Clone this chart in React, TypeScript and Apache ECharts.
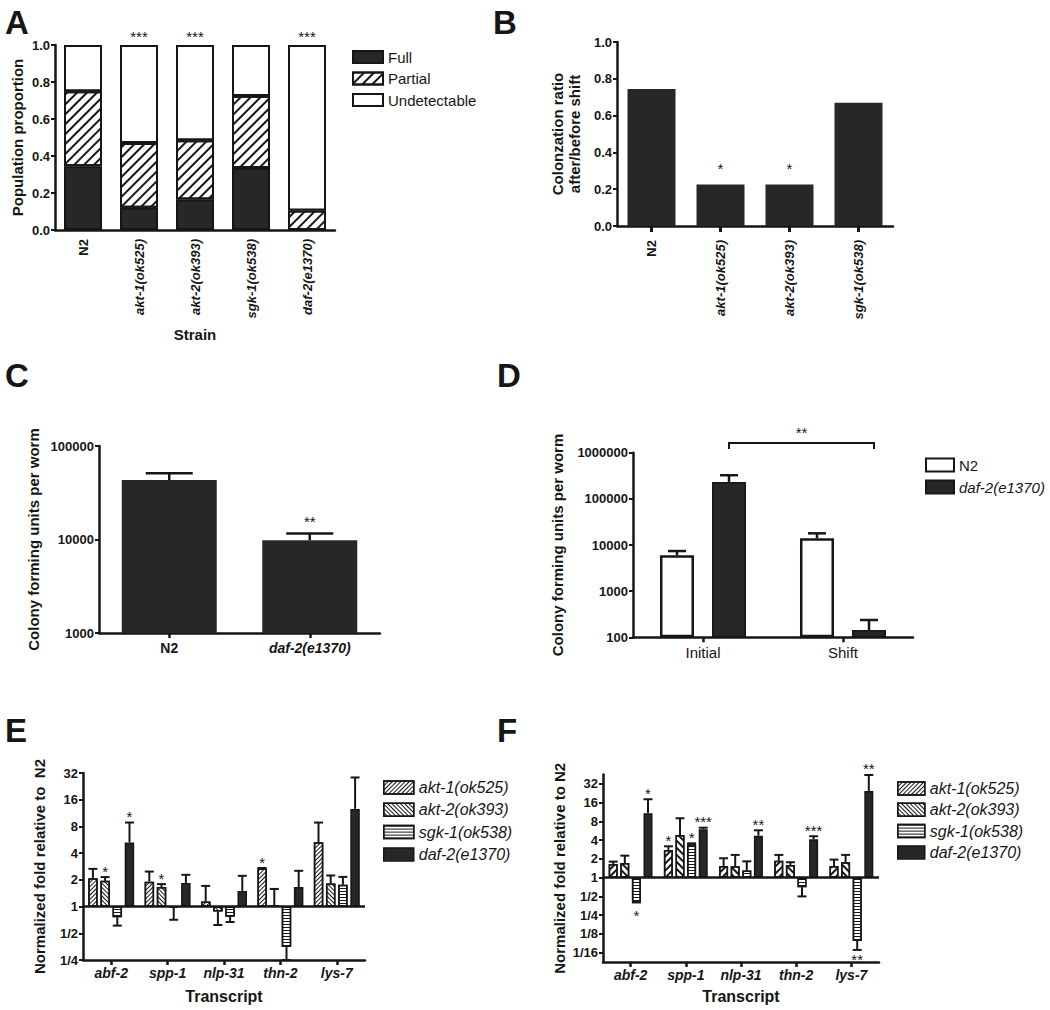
import React, { useEffect, useRef } from 'react';
import * as echarts from 'echarts';

const FONT = '"Liberation Sans", Arial, Helvetica, sans-serif';
const INK = '#161616';
const DARK = '#272727';

// ---------- Panel A ----------
const strainsA = ['N2', 'akt-1(ok525)', 'akt-2(ok393)', 'sgk-1(ok538)', 'daf-2(e1370)'];
const fullA = [0.345, 0.12, 0.165, 0.335, 0];
const partialA = [0.405, 0.35, 0.32, 0.39, 0.105];
const undetA = [0.25, 0.53, 0.515, 0.275, 0.895];
const sigA = ['', '***', '***', '', '***'];

// ---------- Panel B ----------
const strainsB = ['N2', 'akt-1(ok525)', 'akt-2(ok393)', 'sgk-1(ok538)'];
const ratioB = [0.745, 0.225, 0.225, 0.67];
const sigB = ['', '*', '*', ''];

// ---------- Panel C ----------
const strainsC = ['N2', 'daf-2(e1370)'];
const cfuC = [43300, 9800];
const cfuErrC = [51000, 11600];
const sigC = ['', '**'];

// ---------- Panel D ----------
const phasesD = ['Initial', 'Shift'];
const seriesD = ['N2', 'daf-2(e1370)'];
const n2D = [6000, 14000];
const n2ErrD = [7400, 17900];
const daf2D = [233000, 144];
const daf2ErrD = [325000, 237];
const bracketD = { from: 0, to: 1, top: 1620000, foot: 1200000, sig: '**' };

// ---------- Panels E & F ----------
const transcripts = ['abf-2', 'spp-1', 'nlp-31', 'thn-2', 'lys-7'];
const strainsEF = ['akt-1(ok525)', 'akt-2(ok393)', 'sgk-1(ok538)', 'daf-2(e1370)'];

const akt1E = [2.09, 1.91, 1.14, 2.68, 5.32];
const akt1ErrE = [2.66, 2.48, 1.71, 2.72, 8.85];
const akt2E = [1.95, 1.66, 0.88, 1.04, 1.82];
const akt2ErrE = [2.15, 1.79, 0.62, 1.58, 2.24];
const sgk1E = [0.76, 0.97, 0.77, 0.35, 1.76];
const sgk1ErrE = [0.61, 0.71, 0.67, 0.25, 2.16];
const daf2E = [5.27, 1.84, 1.5, 1.66, 12.6];
const daf2ErrE = [8.85, 2.28, 2.22, 2.53, 28.5];
const sigAkt1E = ['', '', '', '*', ''];
const sigAkt2E = ['*', '*', '', '', ''];
const sigSgk1E = ['', '', '', '', ''];
const sigDaf2E = ['*', '', '', '', ''];

const akt1F = [1.66, 2.79, 1.54, 1.87, 1.54];
const akt1ErrF = [1.81, 3.19, 2.05, 2.32, 1.95];
const akt2F = [1.72, 4.85, 1.52, 1.6, 1.77];
const akt2ErrF = [2.26, 9.0, 2.32, 1.77, 2.32];
const sgk1F = [0.41, 3.44, 1.3, 0.7, 0.096];
const sgk1ErrF = [0.4, 3.56, 1.83, 0.5, 0.069];
const daf2F = [10.8, 5.98, 4.73, 4.14, 24.7];
const daf2ErrF = [18.2, 6.35, 5.77, 4.63, 44.6];
const sigAkt1F = ['', '*', '', '', ''];
const sigAkt2F = ['', '', '', '', ''];
const sigSgk1F = ['*', '*', '', '', '**'];
const sigDaf2F = ['*', '***', '**', '***', '**'];

const ticksF = [-4, -3, -2, -1, 0, 1, 2, 3, 4, 5];

// ---------- helpers ----------
const C_BASE = 3; // log10(1000)
const D_BASE = 2; // log10(100)
const lc = (v: number) => Math.log10(v) - C_BASE;
const ld = (v: number) => Math.log10(v) - D_BASE;
const l2 = (v: number) => Math.log2(v);

const STAR = 15;
const axisLine = { show: true, onZero: false, lineStyle: { color: INK, width: 2.5 } };
const yTick = { show: true, length: 4, lineStyle: { color: INK, width: 2 } };
const xTick = { show: true, alignWithLabel: true, length: 5, lineStyle: { color: INK, width: 2.5 } };
const tickLabel = { color: INK, fontFamily: FONT, fontWeight: 'bold', fontSize: 13, margin: 5 };
const nameStyle = { color: INK, fontFamily: FONT, fontWeight: 'bold', fontSize: 15 };

const catRich = (size: number) => ({
  b: { fontFamily: FONT, fontWeight: 'bold', fontSize: size, color: INK },
  bi: { fontFamily: FONT, fontWeight: 'bold', fontStyle: 'italic', fontSize: size, color: INK },
});
const strainFmt = (v: string) => (v === 'N2' ? `{b|${v}}` : `{bi|${v}}`);
const foldFmt = (v: number) => {
  const r = Math.round(v);
  return r >= 0 ? String(Math.pow(2, r)) : '1/' + Math.pow(2, -r);
};

const hatch = (rotation: number, dash: number[]) => ({
  symbol: 'rect',
  symbolSize: 1,
  dashArrayX: [1, 0],
  dashArrayY: dash,
  rotation,
  color: INK,
});

// star text whose glyph centre sits at (x, cy)
const starText = (x: number, cy: number, text: string) => ({
  type: 'text',
  x,
  y: cy + 0.23 * STAR,
  style: {
    text,
    fill: INK,
    fontFamily: FONT,
    fontSize: STAR,
    lineHeight: 9,
    align: 'center',
    verticalAlign: 'middle',
  },
});

type Entry = { cat: number; val: number; end: number; sig: string; off: number };

function errorSeries(
  axis: number,
  entries: Entry[],
  capHalf: number,
  lw: number,
  upOff: number,
  downOff: number,
  yMin: number
) {
  return {
    type: 'custom',
    xAxisIndex: axis,
    yAxisIndex: axis,
    z: 5,
    clip: false,
    silent: true,
    data: entries.map((e) => [e.cat, e.end]),
    renderItem: (params: any, api: any) => {
      const e = entries[params.dataIndex];
      const p0 = api.coord([e.cat, e.val]);
      const p1 = api.coord([e.cat, e.end]);
      const bottom = api.coord([e.cat, yMin])[1];
      const x = p0[0] + e.off;
      const up = e.end >= e.val;
      const children: any[] = [];
      if (Math.abs(p1[1] - p0[1]) > 0.5) {
        children.push({
          type: 'line',
          shape: { x1: x, y1: p0[1], x2: x, y2: p1[1] },
          style: { stroke: INK, lineWidth: lw },
        });
        children.push({
          type: 'line',
          shape: { x1: x - capHalf, y1: p1[1], x2: x + capHalf, y2: p1[1] },
          style: { stroke: INK, lineWidth: lw },
        });
      }
      if (e.sig) {
        const cy = up
          ? Math.min(p0[1], p1[1]) - upOff
          : Math.min(Math.max(p0[1], p1[1]) + downOff, bottom - 6);
        children.push(starText(x, cy, e.sig));
      }
      return { type: 'group', children };
    },
  };
}

function buildOption() {
  const entriesC: Entry[] = strainsC.map((_, i) => ({
    cat: i,
    val: lc(cfuC[i]),
    end: lc(cfuErrC[i]),
    sig: sigC[i],
    off: 0,
  }));
  const dVals = [n2D, daf2D];
  const dErrs = [n2ErrD, daf2ErrD];
  const offD = [-26, 26];
  const entriesD: Entry[] = [];
  dVals.forEach((vals, s) =>
    vals.forEach((v, c) =>
      entriesD.push({ cat: c, val: ld(v), end: ld(dErrs[s][c]), sig: '', off: offD[s] })
    )
  );
  const buildEF = (vals: number[][], errs: number[][], sigs: string[][], step: number) => {
    const out: Entry[] = [];
    vals.forEach((arr, s) =>
      arr.forEach((v, c) =>
        out.push({ cat: c, val: l2(v), end: l2(errs[s][c]), sig: sigs[s][c], off: (s - 1.5) * step })
      )
    );
    return out;
  };
  const valsE = [akt1E, akt2E, sgk1E, daf2E];
  const errsE = [akt1ErrE, akt2ErrE, sgk1ErrE, daf2ErrE];
  const sigsE = [sigAkt1E, sigAkt2E, sigSgk1E, sigDaf2E];
  const valsF = [akt1F, akt2F, sgk1F, daf2F];
  const errsF = [akt1ErrF, akt2ErrF, sgk1ErrF, daf2ErrF];
  const sigsF = [sigAkt1F, sigAkt2F, sigSgk1F, sigDaf2F];
  const entriesE = buildEF(valsE, errsE, sigsE, 12.2);
  const entriesF = buildEF(valsF, errsF, sigsF, 11.6);

  const efStyles = (dense: boolean) => [
    { color: '#fff', borderColor: INK, borderWidth: 1.5, decal: hatch(-Math.PI / 4, dense ? [1, 1.8] : [1.1, 2.6]) },
    { color: '#fff', borderColor: INK, borderWidth: 1.5, decal: hatch(Math.PI / 4, dense ? [1, 1.8] : [1.1, 2.6]) },
    { color: '#fff', borderColor: INK, borderWidth: 1.5, decal: hatch(0, [1, 2]) },
    { color: DARK, borderColor: INK, borderWidth: 1.5 },
  ];
  const stylesE = efStyles(true);
  const stylesF = efStyles(false);

  const baseLine = {
    silent: true,
    symbol: ['none', 'none'],
    label: { show: false },
    lineStyle: { color: INK, width: 2.5, type: 'solid' },
    data: [{ yAxis: 0 }],
  };

  const efBars = (axis: number, vals: number[][], styles: any[], bw: number, gap: string) =>
    vals.map((arr, s) => ({
      type: 'bar',
      name: strainsEF[s],
      xAxisIndex: axis,
      yAxisIndex: axis,
      barWidth: bw,
      barGap: gap,
      itemStyle: styles[s],
      data: arr.map(l2),
      ...(s === 0 ? { markLine: baseLine } : {}),
    }));

  const legendText = (size: number, lh: number) => ({
    fontFamily: FONT,
    fontSize: size,
    color: INK,
    lineHeight: lh,
    rich: {
      i: { fontFamily: FONT, fontSize: size, fontStyle: 'italic', color: INK, lineHeight: lh },
    },
  });
  const legendFmt = (n: string) => (n === 'N2' ? n : `{i|${n}}`);

  const letters = [
    { t: 'A', x: 5, y: 22 },
    { t: 'B', x: 493, y: 22 },
    { t: 'C', x: 5, y: 375 },
    { t: 'D', x: 497, y: 375 },
    { t: 'E', x: 5, y: 730 },
    { t: 'F', x: 497, y: 730 },
  ];

  const gridBase = { containLabel: false, outerBoundsMode: 'none' };

  return {
    animation: false,
    backgroundColor: '#ffffff',
    textStyle: { fontFamily: FONT },
    graphic: letters.map((l) => ({
      type: 'text',
      x: l.x,
      y: l.y,
      style: {
        text: l.t,
        fill: INK,
        fontFamily: FONT,
        fontWeight: 'bold',
        fontSize: 33,
        verticalAlign: 'middle',
      },
    })),
    grid: [
      { ...gridBase, left: 55, top: 45, width: 280, height: 185 },
      { ...gridBase, left: 617, top: 42, width: 276, height: 184 },
      { ...gridBase, left: 99, top: 446, width: 281, height: 187 },
      { ...gridBase, left: 633, top: 452.7, width: 280, height: 184.6 },
      { ...gridBase, left: 83, top: 773, width: 282, height: 187 },
      { ...gridBase, left: 603, top: 774.6, width: 276, height: 187.4 },
    ],
    legend: [
      {
        left: 352,
        top: 48,
        orient: 'vertical',
        padding: 0,
        icon: 'rect',
        itemWidth: 30,
        itemHeight: 12,
        itemGap: 3.5,
        selectedMode: false,
        itemStyle: { borderColor: INK, borderWidth: 2 },
        data: ['Full', 'Partial', 'Undetectable'],
        textStyle: legendText(15, 18),
      },
      {
        left: 925,
        top: 456,
        orient: 'vertical',
        padding: 0,
        icon: 'rect',
        itemWidth: 28,
        itemHeight: 13,
        itemGap: 4,
        selectedMode: false,
        itemStyle: { borderColor: INK, borderWidth: 2 },
        data: seriesD,
        formatter: legendFmt,
        textStyle: legendText(15, 18),
      },
      {
        left: 383,
        top: 778,
        orient: 'vertical',
        padding: 0,
        icon: 'rect',
        itemWidth: 30,
        itemHeight: 13,
        itemGap: 3.3,
        selectedMode: false,
        itemStyle: { borderColor: INK, borderWidth: 1.5 },
        data: strainsEF,
        formatter: legendFmt,
        textStyle: legendText(16, 19),
      },
      {
        left: 897,
        top: 779,
        orient: 'vertical',
        padding: 0,
        icon: 'rect',
        itemWidth: 27,
        itemHeight: 13,
        itemGap: 2.3,
        selectedMode: false,
        itemStyle: { borderColor: INK, borderWidth: 1.5 },
        data: strainsEF,
        formatter: legendFmt,
        textStyle: legendText(16, 19),
      },
    ],
    xAxis: [
      {
        type: 'category',
        gridIndex: 0,
        data: strainsA,
        axisLine,
        axisTick: { show: false },
        axisLabel: { interval: 0, rotate: 90, margin: 9, formatter: strainFmt, rich: catRich(13) },
        name: 'Strain',
        nameLocation: 'middle',
        nameGap: 97,
        nameTextStyle: nameStyle,
      },
      {
        type: 'category',
        gridIndex: 1,
        data: strainsB,
        axisLine,
        axisTick: { show: true, alignWithLabel: true, length: 6, lineStyle: { color: INK, width: 3 } },
        axisLabel: { interval: 0, rotate: 90, margin: 14, formatter: strainFmt, rich: catRich(13) },
      },
      {
        type: 'category',
        gridIndex: 2,
        data: strainsC,
        axisLine,
        axisTick: xTick,
        axisLabel: { interval: 0, margin: 8, formatter: strainFmt, rich: catRich(14) },
      },
      {
        type: 'category',
        gridIndex: 3,
        data: phasesD,
        axisLine,
        axisTick: xTick,
        axisLabel: { interval: 0, margin: 8, color: INK, fontFamily: FONT, fontSize: 15 },
      },
      {
        type: 'category',
        gridIndex: 4,
        data: transcripts,
        axisLine,
        axisTick: xTick,
        axisLabel: { interval: 0, margin: 6, formatter: (v: string) => `{bi|${v}}`, rich: catRich(14) },
        name: 'Transcript',
        nameLocation: 'middle',
        nameGap: 28.5,
        nameTextStyle: { ...nameStyle, fontSize: 16 },
      },
      {
        type: 'category',
        gridIndex: 5,
        data: transcripts,
        axisLine,
        axisTick: xTick,
        axisLabel: { interval: 0, margin: 6, formatter: (v: string) => `{bi|${v}}`, rich: catRich(14) },
        name: 'Transcript',
        nameLocation: 'middle',
        nameGap: 26.5,
        nameTextStyle: { ...nameStyle, fontSize: 16 },
      },
    ],
    yAxis: [
      {
        type: 'value',
        gridIndex: 0,
        min: 0,
        max: 1,
        interval: 0.2,
        axisLine,
        axisTick: yTick,
        splitLine: { show: false },
        axisLabel: { ...tickLabel, formatter: (v: number) => v.toFixed(1) },
        name: 'Population proportion',
        nameLocation: 'middle',
        nameGap: 30.5,
        nameTextStyle: nameStyle,
      },
      {
        type: 'value',
        gridIndex: 1,
        min: 0,
        max: 1,
        interval: 0.2,
        axisLine,
        axisTick: yTick,
        splitLine: { show: false },
        axisLabel: { ...tickLabel, formatter: (v: number) => v.toFixed(1) },
        name: 'Colonzation ratio\nafter/before shift',
        nameLocation: 'middle',
        nameGap: 34.5,
        nameTextStyle: { ...nameStyle, lineHeight: 17 },
      },
      {
        type: 'value',
        gridIndex: 2,
        min: 0,
        max: 2,
        interval: 1,
        axisLine,
        axisTick: yTick,
        splitLine: { show: false },
        axisLabel: { ...tickLabel, formatter: (v: number) => String(Math.round(Math.pow(10, v + C_BASE))) },
        name: 'Colony forming units per worm',
        nameLocation: 'middle',
        nameGap: 58.5,
        nameTextStyle: nameStyle,
      },
      {
        type: 'value',
        gridIndex: 3,
        min: 0,
        max: 4,
        interval: 1,
        axisLine,
        axisTick: yTick,
        splitLine: { show: false },
        axisLabel: { ...tickLabel, formatter: (v: number) => String(Math.round(Math.pow(10, v + D_BASE))) },
        name: 'Colony forming units per worm',
        nameLocation: 'middle',
        nameGap: 68.5,
        nameTextStyle: nameStyle,
      },
      {
        type: 'value',
        gridIndex: 4,
        min: -2,
        max: 5,
        interval: 1,
        axisLine,
        axisTick: yTick,
        splitLine: { show: false },
        axisLabel: { ...tickLabel, formatter: foldFmt },
        name: 'Normalized fold relative to  N2',
        nameLocation: 'middle',
        nameGap: 36.5,
        nameTextStyle: nameStyle,
      },
      {
        type: 'value',
        gridIndex: 5,
        min: -4.5,
        max: 5.5,
        axisLine,
        axisTick: { ...yTick, customValues: ticksF },
        splitLine: { show: false },
        axisLabel: { ...tickLabel, formatter: foldFmt, customValues: ticksF },
        name: 'Normalized fold relative to N2',
        nameLocation: 'middle',
        nameGap: 36.5,
        nameTextStyle: nameStyle,
      },
    ],
    series: [
      // A
      {
        type: 'bar',
        name: 'Full',
        stack: 'A',
        xAxisIndex: 0,
        yAxisIndex: 0,
        barWidth: 38,
        itemStyle: { color: DARK, borderColor: INK, borderWidth: 2 },
        data: fullA,
      },
      {
        type: 'bar',
        name: 'Partial',
        stack: 'A',
        xAxisIndex: 0,
        yAxisIndex: 0,
        barWidth: 38,
        itemStyle: { color: '#fff', borderColor: INK, borderWidth: 2, decal: hatch(-Math.PI / 4, [2, 5]) },
        data: partialA,
      },
      {
        type: 'bar',
        name: 'Undetectable',
        stack: 'A',
        xAxisIndex: 0,
        yAxisIndex: 0,
        barWidth: 38,
        itemStyle: { color: '#fff', borderColor: INK, borderWidth: 2 },
        label: {
          show: true,
          position: 'top',
          distance: 1,
          formatter: (p: any) => sigA[p.dataIndex],
          color: INK,
          fontFamily: FONT,
          fontSize: STAR,
        },
        data: undetA,
      },
      // B
      {
        type: 'bar',
        name: 'Colonization ratio',
        xAxisIndex: 1,
        yAxisIndex: 1,
        barWidth: 48,
        itemStyle: { color: DARK },
        label: {
          show: true,
          position: 'top',
          distance: 9,
          formatter: (p: any) => sigB[p.dataIndex],
          color: INK,
          fontFamily: FONT,
          fontSize: STAR,
        },
        data: ratioB,
      },
      // C
      {
        type: 'bar',
        name: 'CFU C',
        xAxisIndex: 2,
        yAxisIndex: 2,
        barWidth: 95,
        itemStyle: { color: DARK },
        data: cfuC.map(lc),
      },
      errorSeries(2, entriesC, 23.5, 2.5, 15, 10, 0),
      // D
      {
        type: 'bar',
        name: seriesD[0],
        xAxisIndex: 3,
        yAxisIndex: 3,
        barWidth: 34,
        barGap: '53%',
        itemStyle: { color: '#fff', borderColor: INK, borderWidth: 2.5 },
        data: n2D.map(ld),
      },
      {
        type: 'bar',
        name: seriesD[1],
        xAxisIndex: 3,
        yAxisIndex: 3,
        barWidth: 34,
        barGap: '53%',
        itemStyle: { color: DARK, borderColor: INK, borderWidth: 1.5 },
        data: daf2D.map(ld),
      },
      errorSeries(3, entriesD, 9, 2.5, 15, 10, 0),
      {
        type: 'custom',
        xAxisIndex: 3,
        yAxisIndex: 3,
        z: 5,
        clip: false,
        silent: true,
        data: [[bracketD.from, ld(bracketD.top)]],
        renderItem: (params: any, api: any) => {
          const a = api.coord([bracketD.from, ld(bracketD.top)]);
          const b = api.coord([bracketD.to, ld(bracketD.top)]);
          const f = api.coord([bracketD.from, ld(bracketD.foot)]);
          const xa = a[0] + offD[1];
          const xb = b[0] + offD[1] + 5;
          return {
            type: 'group',
            children: [
              {
                type: 'polyline',
                shape: { points: [[xa, f[1]], [xa, a[1]], [xb, a[1]], [xb, f[1]]] },
                style: { stroke: INK, lineWidth: 2, fill: null },
              },
              starText((xa + xb) / 2, a[1] - 14, bracketD.sig),
            ],
          };
        },
      },
      // E
      ...efBars(4, valsE, stylesE, 9.5, '28%'),
      errorSeries(4, entriesE, 4.5, 2, 9, 10, -2),
      // F
      ...efBars(5, valsF, stylesF, 9, '29%'),
      errorSeries(5, entriesF, 4.5, 2, 9.5, 10, -4.5),
    ],
  };
}

function App() {
  const ref = useRef<HTMLDivElement>(null);
  useEffect(() => {
    document.body.style.margin = '0';
    const chart = echarts.init(ref.current as HTMLDivElement, null, { renderer: 'svg' });
    chart.setOption(buildOption() as any);
    return () => chart.dispose();
  }, []);
  return <div ref={ref} style={{ width: 1050, height: 1010 }} />;
}

export default App;
